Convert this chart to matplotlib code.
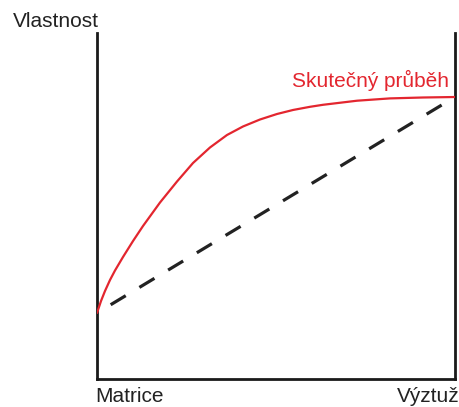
import matplotlib
matplotlib.use("Agg")
import matplotlib.pyplot as plt

# Data (normalised: 0 = matrix, 1 = reinforcement)
x_real = [0, 0.0112, 0.0223, 0.0363, 0.0503, 0.0726, 0.1006, 0.1285, 0.1760,
          0.2235, 0.2682, 0.3156, 0.3631, 0.4078, 0.4553, 0.5028, 0.5475,
          0.5950, 0.6313, 0.7263, 0.8184, 0.9106, 1.0]
y_real = [0.1908, 0.2254, 0.2543, 0.2861, 0.3136, 0.3526, 0.3988, 0.4422, 0.5101,
          0.5708, 0.6243, 0.6691, 0.7052, 0.7298, 0.7500, 0.7659, 0.7775,
          0.7867, 0.7925, 0.8043, 0.8110, 0.8136, 0.8150]
x_lin = [0, 1]
y_lin = [0.1908, 0.8150]

ylabel = "Vlastnost"
xlabel_left = "Matrice"
xlabel_right = "Výztuž"
curve_label = "Skutečný průběh"

W, H = 460, 407
fig = plt.figure(figsize=(W / 100, H / 100), dpi=100)
plt.rcParams['font.family'] = ['Liberation Sans', 'DejaVu Sans']

ax = fig.add_axes([97 / W, 1 - 379 / H, (455 - 97) / W, (379 - 33) / H])
ax.set_xlim(0, 1)
ax.set_ylim(0, 1)

red = "#e3262f"
ax.plot(x_real, y_real, color=red, lw=1.6, solid_capstyle='round',
        solid_joinstyle='round', zorder=3)
ax.plot(x_lin, y_lin, color="#222222", lw=2.3, linestyle=(5.5, (5.5, 5.0)), zorder=2)

for s in ['left', 'right', 'bottom']:
    ax.spines[s].set_linewidth(2.0)
    ax.spines[s].set_color("#1a1a1a")
ax.spines['top'].set_visible(False)
ax.set_xticks([])
ax.set_yticks([])

fs = 15
fig.text(13 / W, 1 - 27 / H, ylabel, fontsize=fs, color="#222222", ha='left', va='baseline')
fig.text(95 / W, 1 - 402 / H, xlabel_left, fontsize=fs, color="#222222", ha='left', va='baseline')
fig.text(460 / W, 1 - 402 / H, xlabel_right, fontsize=fs, color="#222222", ha='right', va='baseline')
fig.text(292 / W, 1 - 87 / H, curve_label, fontsize=fs, color=red, ha='left', va='baseline')

fig.savefig("out.png", dpi=100)
